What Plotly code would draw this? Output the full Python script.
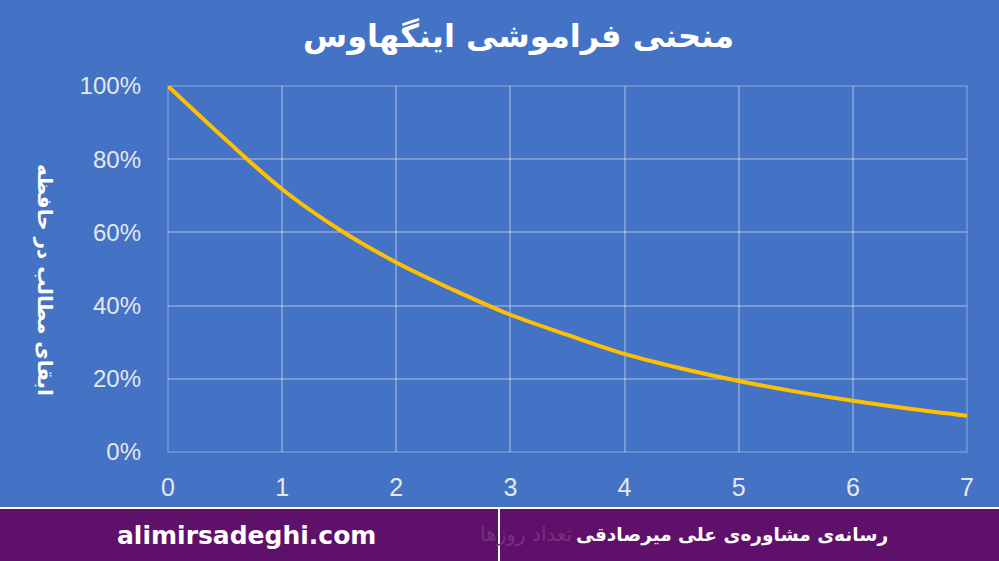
import plotly.graph_objects as go

days = [0, 0.5, 1, 1.5, 2, 2.5, 3, 3.5, 4, 4.5, 5, 5.5, 6, 6.5, 7]
retention = [100, 85.5, 71.8, 60.8, 51.8, 44.3, 37.5, 32.0, 26.8, 22.8, 19.4, 16.5, 14.0, 11.8, 9.9]
x_ticks = [0, 1, 2, 3, 4, 5, 6, 7]
y_ticks = [0, 20, 40, 60, 80, 100]
y_tick_labels = ["0%", "20%", "40%", "60%", "80%", "100%"]

title_text = "منحنی فراموشی اینگهاوس"
y_title = "ابقای مطالب در حافظه"
x_title = "تعداد روزها"
site_text = "alimirsadeghi.com"
brand_text = "رسانه‌ی مشاوره‌ی علی میرصادقی"

W, H = 999, 561
L, R, T, B = 168, 967, 86, 452
pw, ph = R - L, B - T

def px(x):
    return (x - L) / pw

def py(y):
    return (B - y) / ph

bg = "#4472C4"
grid = "rgba(255,255,255,0.28)"
purple = "#5F106A"
tick_col = "#E4E8F0"

fig = go.Figure()
fig.add_trace(go.Scatter(
    x=days, y=retention, mode="lines",
    line=dict(color="#FFC000", width=4, shape="spline", smoothing=1.0),
    hoverinfo="skip", showlegend=False,
))

fig.update_layout(
    width=W, height=H,
    margin=dict(l=L, r=W - R, t=T, b=H - B, pad=0),
    paper_bgcolor=bg, plot_bgcolor=bg,
    showlegend=False,
    xaxis=dict(range=[0, 7], tickvals=x_ticks, showgrid=True, gridcolor=grid, gridwidth=1.5,
               zeroline=False, showline=False, ticks="",
               tickfont=dict(family="Liberation Sans", size=25, color=tick_col),
               ticklabelstandoff=18, fixedrange=True),
    yaxis=dict(range=[0, 100], tickvals=y_ticks, ticktext=y_tick_labels, showgrid=True,
               gridcolor=grid, gridwidth=1.5, zeroline=False, showline=False, ticks="",
               tickfont=dict(family="Liberation Sans", size=24, color=tick_col),
               ticklabelstandoff=26, fixedrange=True),
    shapes=[
        dict(type="rect", xref="paper", yref="paper", x0=0, x1=1, y0=0, y1=1,
             line=dict(color=grid, width=1.5), layer="below"),
        dict(type="rect", xref="paper", yref="paper", x0=px(-5), x1=px(W + 5), y0=py(H + 5), y1=py(507),
             fillcolor="white", line=dict(width=0), layer="above"),
        dict(type="rect", xref="paper", yref="paper", x0=px(-5), x1=px(W + 5), y0=py(H + 5), y1=py(509),
             fillcolor=purple, line=dict(width=0), layer="above"),
        dict(type="line", xref="paper", yref="paper", x0=px(499), x1=px(499), y0=py(H + 5), y1=py(507),
             line=dict(color="white", width=2), layer="above"),
    ],
    annotations=[
        dict(text=title_text, xref="paper", yref="paper", x=px(518), y=py(36), showarrow=False,
             font=dict(family="DejaVu Sans", size=32, color="white", weight="bold"),
             xanchor="center", yanchor="middle"),
        dict(text=y_title, xref="paper", yref="paper", x=px(45), y=py(280), showarrow=False,
             textangle=90, font=dict(family="DejaVu Sans", size=20, color="white", weight="bold"),
             xanchor="center", yanchor="middle"),
        dict(text=x_title, xref="paper", yref="paper", x=px(574), y=py(534), showarrow=False,
             font=dict(family="DejaVu Sans", size=20, color="#76307F"),
             xanchor="right", yanchor="middle"),
        dict(text=site_text, xref="paper", yref="paper", x=px(246), y=py(535), showarrow=False,
             font=dict(family="DejaVu Sans", size=25, color="white", weight="bold"),
             xanchor="center", yanchor="middle"),
        dict(text=brand_text, xref="paper", yref="paper", x=px(732), y=py(535), showarrow=False,
             font=dict(family="DejaVu Sans", size=18.5, color="white", weight="bold"),
             xanchor="center", yanchor="middle"),
    ],
)

fig.write_html("out.html", config={"displayModeBar": False},
               post_script="document.body.style.margin='0';document.body.style.padding='0';")
